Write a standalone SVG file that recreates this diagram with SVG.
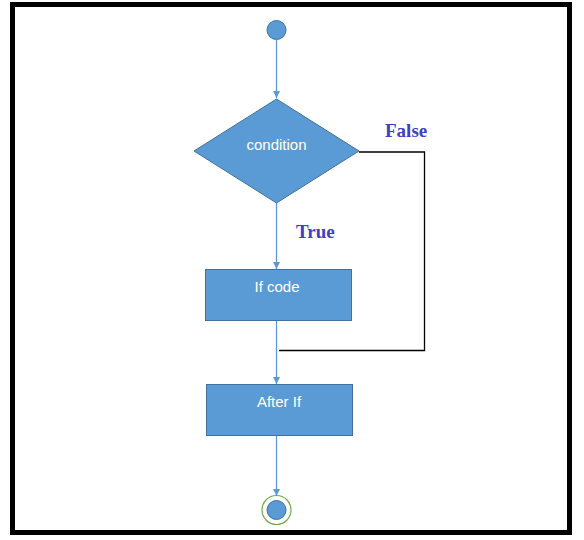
<svg xmlns="http://www.w3.org/2000/svg" width="584" height="540" viewBox="0 0 584 540">
<defs>
<style>
.shape{fill:#5B9BD5;stroke:#41719C;stroke-width:1}
.conn{fill:none;stroke:#5B9BD5;stroke-width:1.3}
.blk{fill:none;stroke:#000;stroke-width:1.3}
.lbl{font-family:"Liberation Sans",Arial,sans-serif;font-size:15px;fill:#fff;text-anchor:middle}
.tf{font-family:"Liberation Serif","Times New Roman",serif;font-size:19px;font-weight:bold;fill:#4040C4}
</style>
<marker id="arr" viewBox="0 0 10 10" refX="10" refY="5" markerWidth="7" markerHeight="7" markerUnits="userSpaceOnUse" orient="auto">
<path d="M0,0 L10,5 L0,10 z" fill="#5B9BD5"/>
</marker>
</defs>
<rect x="0" y="0" width="584" height="540" fill="#fff"/>
<rect x="12.5" y="4.5" width="557" height="528" fill="none" stroke="#000" stroke-width="5"/>
<g id="connectors">
<line class="conn" x1="276.5" y1="40" x2="276.5" y2="98" marker-end="url(#arr)"/>
<line class="conn" x1="276.5" y1="203" x2="276.5" y2="269" marker-end="url(#arr)"/>
<line class="conn" x1="276.5" y1="320" x2="276.5" y2="384" marker-end="url(#arr)"/>
<line class="conn" x1="276.5" y1="435" x2="276.5" y2="496" marker-end="url(#arr)"/>
<polyline class="blk" points="359,152 424.5,152 424.5,350.5 279,350.5"/>
<text class="tf" x="385" y="137">False</text>
<text class="tf" x="296" y="238">True</text>
</g>
<g id="start">
<circle class="shape" cx="276.5" cy="30" r="9.5"/>
</g>
<g id="condition">
<polygon class="shape" points="276.5,99 359,151 276.5,203 194,151"/>
<text class="lbl" x="276.5" y="150">condition</text>
</g>
<g id="ifcode">
<rect class="shape" x="205.5" y="269.5" width="146" height="51"/>
<text class="lbl" x="277" y="292">If code</text>
</g>
<g id="afterif">
<rect class="shape" x="206.5" y="384.5" width="146" height="51"/>
<text class="lbl" x="279" y="407">After If</text>
</g>
<g id="end">
<circle cx="276.5" cy="510" r="14.5" fill="none" stroke="#70AD47" stroke-width="1.2"/>
<circle class="shape" cx="276.5" cy="510" r="9.5"/>
</g>
</svg>
